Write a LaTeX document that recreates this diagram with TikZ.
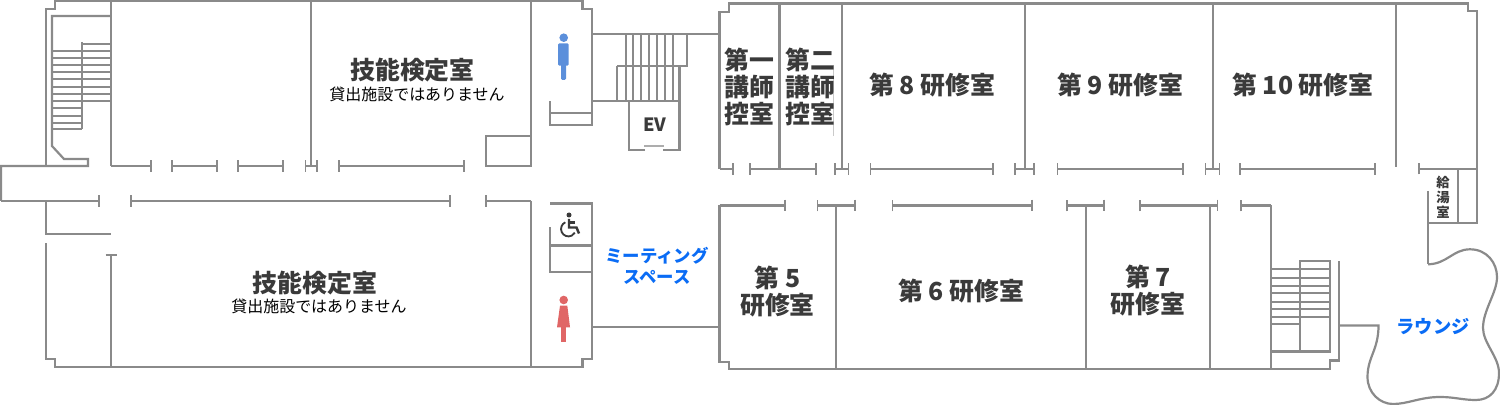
\documentclass[tikz,border=0pt]{standalone}
\usepackage{fontspec}
\usetikzlibrary{arrows.meta}
\setmainfont{Noto Sans CJK JP}
\definecolor{wallgray}{HTML}{8A8A8A}
\definecolor{roomtext}{HTML}{3A3A3A}
\definecolor{spaceblue}{HTML}{0A6CF5}
\definecolor{menblue}{HTML}{5B8FDB}
\definecolor{womenred}{HTML}{E06666}
\tikzset{
	wall/.style={draw=wallgray,line width=1.25pt},
	door/.style={wall,{Bar[width=6.6pt,line width=1pt]}-{Bar[width=6.6pt,line width=1pt]}},
	doorend/.style={wall,-{Bar[width=6.6pt,line width=1pt]}},
	tread/.style={draw=wallgray,line width=1.05pt},
	roomname/.style={text=roomtext,font=\fontsize{14.15}{15.4}\selectfont\bfseries,align=center,inner sep=0pt},
	rentnote/.style={text=black,font=\fontsize{9.1}{10}\selectfont,inner sep=0pt},
	spacename/.style={text=spaceblue,font=\fontsize{9.9}{12}\selectfont\bfseries,align=center,inner sep=0pt},
}
\begin{document}
\begin{tikzpicture}[x=0.02cm,y=-0.02cm]
		\useasboundingbox (0,0) rectangle (1500,405);
		% west block, outer walls
		\draw[wall] (331,1) -- (55,1) -- (55,9) -- (46,9) -- (46,166);
		\draw[wall] (331,1) -- (582.5,1) -- (582.5,9) -- (592,9) -- (592,125) -- (549.6,125) -- (549.6,101);
		\draw[wall] (111,16) -- (52,16) -- (52,146) -- (64,159) -- (88,159) -- (88,166) -- (1,166) -- (1,201);
		\draw[doorend] (1,201) -- (100,201);
		\draw[door] (130,201) -- (451,201);
		\draw[wall] (46,201) -- (46,234) -- (111,234);
		\draw[wall] (46,243) -- (46,359) -- (55,359) -- (55,367) -- (582.5,367) -- (582.5,359) -- (592,359) -- (592,203.5) -- (549.6,203.5);
		\draw[wall] (111,255) -- (111,367);
		\draw[wall] (105.5,255) -- (116.5,255);
		\draw[wall] (531,201) -- (531,367);
		\draw[doorend] (531,201) -- (485,201);
		% west block, rooms along the corridor
		\draw[wall] (111,1) -- (111,166);
		\draw[doorend] (111,166) -- (152,166);
		\draw[door] (171,166) -- (218,166);
		\draw[door] (237,166) -- (284,166);
		\draw[door] (304.5,166) -- (318,166);
		\draw[wall] (311,1) -- (311,166);
		\draw[door] (338,166) -- (465,166);
		\draw[wall] (531,1) -- (531,166) -- (486,166) -- (486,136) -- (531,136);
		% stairs, north west
		\draw[tread] (82,44) -- (111,44);
		\draw[tread] (52,50.7) -- (111,50.7);
		\draw[tread] (52,57.7) -- (111,57.7);
		\draw[tread] (52,65) -- (111,65);
		\draw[tread] (52,72.3) -- (111,72.3);
		\draw[tread] (52,79.3) -- (111,79.3);
		\draw[tread] (52,86.7) -- (111,86.7);
		\draw[tread] (52,94) -- (111,94);
		\draw[tread] (52,100.7) -- (111,100.7);
		\draw[tread] (52,108.3) -- (82,108.3);
		\draw[tread] (52,115.7) -- (82,115.7);
		\draw[tread] (52,122.7) -- (82,122.7);
		\draw[tread] (52,129.3) -- (82,129.3);
		\draw[tread] (82,42) -- (82,129.3);
		% toilets
		\draw[wall] (549.6,113) -- (592,113);
		\draw[wall] (549.6,227) -- (549.6,272) -- (592,272);
		\draw[wall] (549.6,245.5) -- (592,245.5);
		% stairs and lift, centre
		\draw[wall] (592,34) -- (719.5,34);
		\draw[wall] (592,101) -- (679.5,101);
		\draw[wall] (617.3,66) -- (686.7,66) -- (686.7,34);
		\draw[tread] (625.7,34) -- (625.7,101);
		\draw[tread] (633,34) -- (633,101);
		\draw[tread] (641,34) -- (641,101);
		\draw[tread] (649,34) -- (649,101);
		\draw[tread] (657,34) -- (657,101);
		\draw[tread] (665,34) -- (665,101);
		\draw[tread] (673.3,34) -- (673.3,101);
		\draw[tread] (617.3,66) -- (617.3,101);
		\draw[wall] (645,150) -- (629,150) -- (629,101);
		\draw[wall] (663,150) -- (679.5,150) -- (679.5,66);
		\draw[draw=wallgray!70,line width=0.9pt] (644,146) -- (664,146);
		% meeting space wall
		\draw[wall] (592,327) -- (719.5,327);
		% east block, north side
		\draw[wall] (719.5,169) -- (719.5,12) -- (729,12) -- (729,3.5) -- (1468,3.5) -- (1468,11) -- (1477,11) -- (1477,222.7) -- (1428,222.7);
		\draw[doorend] (719.5,169) -- (734,169);
		\draw[door] (749,169) -- (817,169);
		\draw[wall] (779.5,3.5) -- (779.5,169);
		\draw[door] (834,169) -- (849.3,169);
		\draw[wall] (841.7,3.5) -- (841.7,169);
		\draw[door] (869.5,169) -- (993.5,169);
		\draw[door] (1014,169) -- (1035,169);
		\draw[wall] (1025,3.5) -- (1025,169);
		\draw[door] (1056.7,169) -- (1184,169);
		\draw[door] (1204.5,169) -- (1220.3,169);
		\draw[wall] (1212.7,3.5) -- (1212.7,169);
		\draw[door] (1239.3,169) -- (1375.7,169);
		\draw[wall] (1396,3.5) -- (1396,167);
		\draw[doorend] (1477,168.7) -- (1418.3,168.7);
		\draw[wall] (1457.7,168.7) -- (1457.7,222.7);
		\draw[wall] (1428,191) -- (1428,264.3);
		\draw[draw=wallgray!45,line width=0.4pt] (833,65) -- (833,136);
		% east block, south side
		\draw[wall] (719.5,205.5) -- (719.5,362) -- (729,362) -- (729,369.3) -- (1330,369.3) -- (1330,360.5) -- (1339.3,360.5) -- (1339.3,261);
		\draw[doorend] (719.5,205.5) -- (786,205.5);
		\draw[door] (816.7,205.5) -- (855.7,205.5);
		\draw[wall] (836,205.5) -- (836,369.3);
		\draw[door] (891.5,205.5) -- (1032.7,205.5);
		\draw[door] (1066,205.5) -- (1105,205.5);
		\draw[wall] (1085.7,205.5) -- (1085.7,369.3);
		\draw[door] (1139.3,205.5) -- (1218.3,205.5);
		\draw[wall] (1210,205.5) -- (1210,369.3);
		\draw[doorend] (1271,205.5) -- (1240,205.5);
		\draw[wall] (1271,205.5) -- (1271,369.3);
		% stairs, south east
		\draw[wall] (1300,351.5) -- (1300,261) -- (1330,261) -- (1330,351.5) -- (1271,351.5);
		\draw[tread] (1271,269.3) -- (1330,269.3);
		\draw[tread] (1271,277.7) -- (1330,277.7);
		\draw[tread] (1271,285.7) -- (1330,285.7);
		\draw[tread] (1271,293.3) -- (1330,293.3);
		\draw[tread] (1271,301.7) -- (1330,301.7);
		\draw[tread] (1271,309.3) -- (1330,309.3);
		\draw[tread] (1271,316.7) -- (1330,316.7);
		\draw[tread] (1271,324) -- (1300,324);
		% lounge outline
		\draw[wall] (1339.3,325.5) -- (1378.5,325.5)
			.. controls (1378.5,350) and (1367.5,357) .. (1367.5,377)
			.. controls (1367.5,393) and (1380,404) .. (1393,404)
			.. controls (1408,404) and (1420,397) .. (1440,397)
			.. controls (1455,397) and (1462,400) .. (1476,400)
			.. controls (1490,400) and (1499,390) .. (1499,373)
			.. controls (1499,357) and (1483,343) .. (1483,328)
			.. controls (1483,310) and (1497,293) .. (1497,277)
			.. controls (1497,263) and (1487,249.3) .. (1470,249.3)
			.. controls (1453,249.3) and (1447,264) .. (1428,264.3);
		% men
		\fill[menblue] (563.7,37.7) circle (4.3);
		\fill[menblue,rounded corners=0.8pt] (558,43.3) rectangle (568.7,65.7);
		\fill[menblue,rounded corners=0.8pt] (561,60) rectangle (566,80);
		% women
		\fill[womenred] (563.7,300) circle (4.3);
		\fill[womenred] (560,305.7) -- (567.3,305.7) -- (570,327.3) -- (557,327.3) -- cycle;
		\fill[womenred] (561,325) rectangle (566,341.7);
		% wheelchair
		\fill[roomtext] (569,215) circle (2.5);
		\draw[roomtext,line width=1.05pt] (565.3,222.3) arc[start angle=245,end angle=30,radius=7.4];
		\draw[roomtext,line width=1.4pt] (569,219) -- (569,227.5) -- (576.5,227.5) -- (579,233.5);
		\draw[roomtext,line width=1.2pt] (569,222.5) -- (575,222.5);
		% room names
		\node[roomname] (skillN) at (412.5,70) {技能検定室};
		\node[rentnote] (rentN) at (417,94) {貸出施設ではありません};
		\node[roomname] (skillS) at (315,283) {技能検定室};
		\node[rentnote] (rentS) at (319,306) {貸出施設ではありません};
		\node[roomname] (lect1) at (749.5,87) {第一\\講師\\控室};
		\node[roomname] (lect2) at (810.5,87) {第二\\講師\\控室};
		\node[roomname] (room8) at (932,85) {第 8 研修室};
		\node[roomname] (room9) at (1120,85) {第 9 研修室};
		\node[roomname] (room10) at (1303,85) {第 10 研修室};
		\node[roomname] (room5) at (777.5,292) {第 5\\研修室};
		\node[roomname] (room6) at (961,291) {第 6 研修室};
		\node[roomname] (room7) at (1148,291) {第 7\\研修室};
		\node[roomname,font=\fontsize{10.4}{11}\selectfont\bfseries] (lift) at (655,125) {EV};
		\node[roomname,font=\fontsize{7.6}{8.4}\selectfont\bfseries] (kettle) at (1443,197) {給\\湯\\室};
		\node[spacename] (meeting) at (657,265.5) {ミーティング\\スペース};
		\node[spacename,font=\fontsize{10.4}{12}\selectfont\bfseries] (lounge) at (1433,327) {ラウンジ};
	\end{tikzpicture}
\end{document}
